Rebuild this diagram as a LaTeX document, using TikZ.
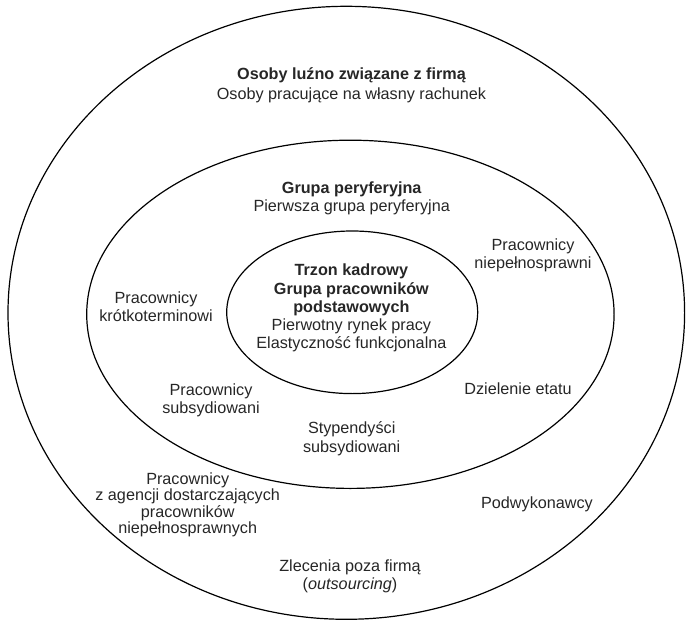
\documentclass[tikz,border=0pt]{standalone}
\usepackage{fontspec}
\setmainfont{Liberation Sans}
\begin{document}
\begin{tikzpicture}[x=1pt,y=-1pt,
  ring/.style={draw=black,line width=1.2pt},
  lbl/.style={align=center,inner sep=0pt,text=black!85,font=\fontsize{16.2}{18.5}\selectfont},
  head/.style={lbl,font=\fontsize{16.2}{18.5}\selectfont\bfseries}]
\useasboundingbox (0,0) rectangle (686,621);
\clip (0,0) rectangle (686,621);
% the three nested circles of the firm
\draw[ring] (346.3,312.8) ellipse [x radius=338.3, y radius=306.5];
\draw[ring] (350.4,314.3) ellipse [x radius=263.7, y radius=174.1];
\draw[ring] (352.2,312.3) ellipse [x radius=125.5, y radius=81.3];

% outer ring
\node[head] (outerhead) at (351.5,75) {Osoby luźno związane z firmą};
\node[lbl]  (outersub)  at (351.5,95) {Osoby pracujące na własny rachunek};
\node[lbl,font=\fontsize{16.2}{16.5}\selectfont] (agency) at (187.7,505) {Pracownicy\\z agencji dostarczających\\pracowników\\niepełnosprawnych};
\node[lbl]  (subcon)    at (537,504) {Podwykonawcy};
\node[lbl]  (outsrc)    at (350,576.5) {Zlecenia poza firmą\\(\textit{outsourcing})};

% middle ring
\node[head] (midhead) at (351.7,189) {Grupa peryferyjna};
\node[lbl]  (midsub)  at (351.7,207) {Pierwsza grupa peryferyjna};
\node[lbl]  (disabled) at (533,255.5) {Pracownicy\\niepełnosprawni};
\node[lbl]  (shortterm) at (156,306.5) {Pracownicy\\krótkoterminowi};
\node[lbl]  (jobshare) at (518,389) {Dzielenie etatu};
\node[lbl]  (subsid) at (211,400.5) {Pracownicy\\subsydiowani};
\node[lbl]  (stipend) at (351.7,438.5) {Stypendyści\\subsydiowani};

% core
\node[lbl,font=\fontsize{16.2}{18.2}\selectfont] (core) at (351.4,308.2) {\textbf{Trzon kadrowy}\\\textbf{Grupa pracowników}\\\textbf{podstawowych}\\Pierwotny rynek pracy\\Elastyczność funkcjonalna};
\end{tikzpicture}
\end{document}
